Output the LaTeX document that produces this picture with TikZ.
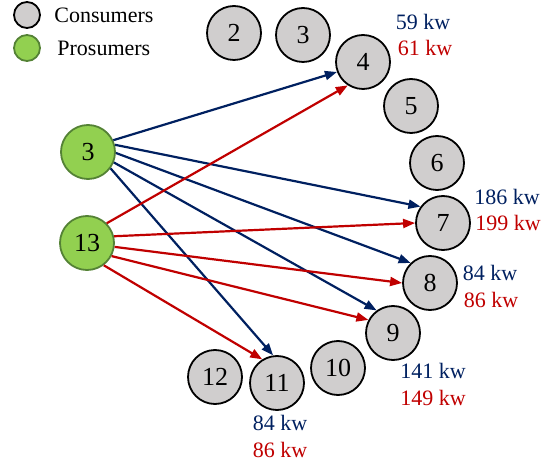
\documentclass[tikz,border=0pt]{standalone}
\usepackage{fontspec}
\setmainfont{Liberation Serif}
\usetikzlibrary{arrows.meta}
\definecolor{flowblue}{RGB}{0,32,96}
\definecolor{flowred}{RGB}{192,0,0}
\definecolor{consgray}{RGB}{208,206,206}
\definecolor{prosgreen}{RGB}{146,208,80}
\definecolor{prosedge}{RGB}{84,130,53}
\tikzset{
    consumer/.style={
           circle,
           draw=black, line width=0.9pt,
           fill=consgray,
           minimum size=27pt,
           inner sep=0pt,
           font=\fontsize{13}{13}\selectfont,
           },
    prosumer/.style={
           consumer,
           draw=prosedge,
           fill=prosgreen,
           },
    kwlabel/.style={
           inner sep=0pt,
           font=\fontsize{11}{11}\selectfont,
           },
    blueflow/.style={draw=flowblue, line width=1.1pt},
    redflow/.style={draw=flowred, line width=1.1pt},
}

\begin{document}
\begin{tikzpicture}[x=0.5pt,y=-0.5pt,->,>={Triangle[length=6pt,width=4.5pt]}]
 \useasboundingbox (0,0) rectangle (550,464);

 % legend
 \node[consumer, minimum size=13pt] (legcons) at (27,15) {};
 \node[prosumer, minimum size=13pt] (legpros) at (27,48) {};
 \node[kwlabel, anchor=west] (legconstext) at (54,15) {Consumers};
 \node[kwlabel, anchor=west] (legprostext) at (57,48) {Prosumers};

 % prosumers
 \node[prosumer] (P3) at (88,152) {3};
 \node[prosumer] (P13) at (87,243) {13};

 % consumers
 \node[consumer] (C2) at (234,33) {2};
 \node[consumer] (C3) at (303,35) {3};
 \node[consumer] (C4) at (363,62) {4};
 \node[consumer] (C5) at (411,106) {5};
 \node[consumer] (C6) at (437,163) {6};
 \node[consumer] (C7) at (443,223) {7};
 \node[consumer] (C8) at (430,283) {8};
 \node[consumer] (C9) at (393,333) {9};
 \node[consumer] (C10) at (338,368) {10};
 \node[consumer] (C11) at (277,383) {11};
 \node[consumer] (C12) at (215,377) {12};

 % power labels (blue from 3, red from 13)
 \node[kwlabel, text=flowblue] (kw4b) at (423,22) {59 kw};
 \node[kwlabel, text=flowred] (kw4r) at (425,48) {61 kw};
 \node[kwlabel, text=flowblue] (kw7b) at (507,197) {186 kw};
 \node[kwlabel, text=flowred] (kw7r) at (508,223) {199 kw};
 \node[kwlabel, text=flowblue] (kw8b) at (490,273) {84 kw};
 \node[kwlabel, text=flowred] (kw8r) at (491,300) {86 kw};
 \node[kwlabel, text=flowblue] (kw9b) at (433,371) {141 kw};
 \node[kwlabel, text=flowred] (kw9r) at (433,398) {149 kw};
 \node[kwlabel, text=flowblue] (kw11b) at (280,423) {84 kw};
 \node[kwlabel, text=flowred] (kw11r) at (280,450) {86 kw};

 % flows of prosumer 3
 \path (P3.25)  edge[blueflow] (C4.201)
  (P3.15)  edge[blueflow] (C7.144)
  (P3.-2)  edge[blueflow] (C8.134)
  (P3.-22) edge[blueflow] (C9.126)
  (P3.-36) edge[blueflow] (C11.98);

 % flows of prosumer 13
 \path (P13.45)  edge[redflow] (C4.237)
  (P13.14)  edge[redflow] (C7.180)
  (P13.-8)  edge[redflow] (C8.180)
  (P13.-28) edge[redflow] (C9.152)
  (P13.-53) edge[redflow] (C11.122);

\end{tikzpicture}
\end{document}
